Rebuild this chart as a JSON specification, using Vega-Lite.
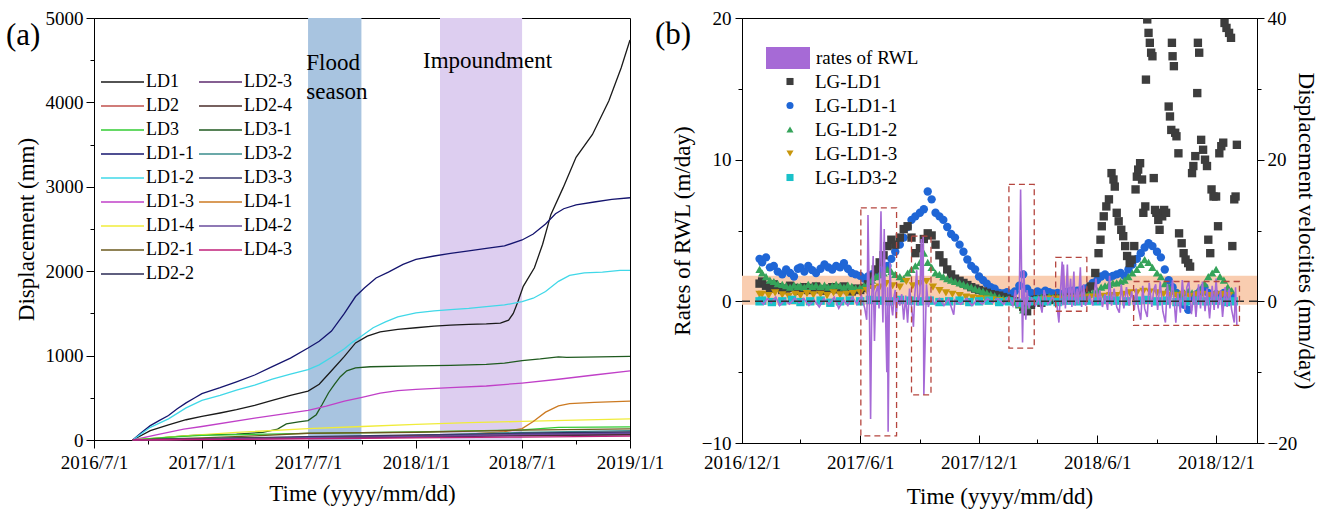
{
"$schema":"https://vega.github.io/schema/vega-lite/v6.json",
"padding":{"left":5,"top":8,"right":5,"bottom":5},
"background":"white",
"config":{"font":"Liberation Serif","view":{"stroke":"black","strokeWidth":1},
"text":{"font":"Liberation Serif"},
"style":{"guide-label":{"font":"Liberation Serif"},"guide-title":{"font":"Liberation Serif"}},
"axis":{"labelFont":"Liberation Serif","titleFont":"Liberation Serif","domainColor":"black","tickColor":"black","labelColor":"black","titleColor":"black","labelFontSize":19,"titleFontSize":23,"titleFontWeight":"normal","grid":false,"labelFlush":false,"labelOverlap":false,"labelBound":false,"tickWidth":1,"domainWidth":1},
"legend":{"labelFont":"Liberation Serif","labelColor":"black","padding":0}},
"spacing":112,
"bounds":"flush",
"resolve":{"scale":{"color":"independent","stroke":"independent","shape":"independent","fill":"independent"},"legend":{"color":"independent","stroke":"independent","shape":"independent","fill":"independent"}},
"datasets":{
"bands":[{"start":"2017/7/1","end":"2017/9/30","kind":"Flood season"},{"start":"2018/2/11","end":"2018/7/1","kind":"Impoundment"}],
"disp":[
{"s":"LD1","t":"2016/9/5","v":0},{"s":"LD1","t":"2016/10/5","v":110},{"s":"LD1","t":"2016/11/5","v":180},{"s":"LD1","t":"2016/12/5","v":240},{"s":"LD1","t":"2017/1/1","v":280},{"s":"LD1","t":"2017/2/1","v":320},{"s":"LD1","t":"2017/3/1","v":360},{"s":"LD1","t":"2017/4/1","v":410},{"s":"LD1","t":"2017/5/1","v":470},{"s":"LD1","t":"2017/6/1","v":530},{"s":"LD1","t":"2017/7/1","v":580},{"s":"LD1","t":"2017/7/20","v":660},{"s":"LD1","t":"2017/8/10","v":820},{"s":"LD1","t":"2017/9/1","v":990},{"s":"LD1","t":"2017/9/20","v":1150},{"s":"LD1","t":"2017/10/10","v":1230},{"s":"LD1","t":"2017/11/1","v":1280},{"s":"LD1","t":"2017/12/1","v":1310},{"s":"LD1","t":"2018/1/1","v":1330},{"s":"LD1","t":"2018/2/1","v":1350},{"s":"LD1","t":"2018/3/1","v":1360},{"s":"LD1","t":"2018/4/1","v":1370},{"s":"LD1","t":"2018/5/1","v":1375},{"s":"LD1","t":"2018/5/25","v":1385},{"s":"LD1","t":"2018/6/8","v":1420},{"s":"LD1","t":"2018/6/16","v":1500},{"s":"LD1","t":"2018/6/24","v":1640},{"s":"LD1","t":"2018/7/3","v":1820},{"s":"LD1","t":"2018/7/22","v":2040},{"s":"LD1","t":"2018/8/5","v":2320},{"s":"LD1","t":"2018/8/19","v":2670},{"s":"LD1","t":"2018/9/9","v":2990},{"s":"LD1","t":"2018/10/1","v":3350},{"s":"LD1","t":"2018/10/29","v":3620},{"s":"LD1","t":"2018/11/26","v":4020},{"s":"LD1","t":"2018/12/17","v":4410},{"s":"LD1","t":"2019/1/1","v":4740},
{"s":"LD1-1","t":"2016/9/5","v":0},{"s":"LD1-1","t":"2016/9/20","v":90},{"s":"LD1-1","t":"2016/10/5","v":170},{"s":"LD1-1","t":"2016/10/20","v":230},{"s":"LD1-1","t":"2016/11/5","v":290},{"s":"LD1-1","t":"2016/11/20","v":370},{"s":"LD1-1","t":"2016/12/5","v":440},{"s":"LD1-1","t":"2016/12/20","v":500},{"s":"LD1-1","t":"2017/1/1","v":550},{"s":"LD1-1","t":"2017/2/1","v":620},{"s":"LD1-1","t":"2017/3/1","v":690},{"s":"LD1-1","t":"2017/4/1","v":770},{"s":"LD1-1","t":"2017/5/1","v":870},{"s":"LD1-1","t":"2017/6/1","v":970},{"s":"LD1-1","t":"2017/7/1","v":1090},{"s":"LD1-1","t":"2017/7/20","v":1170},{"s":"LD1-1","t":"2017/8/10","v":1290},{"s":"LD1-1","t":"2017/9/1","v":1500},{"s":"LD1-1","t":"2017/9/20","v":1700},{"s":"LD1-1","t":"2017/10/5","v":1800},{"s":"LD1-1","t":"2017/10/25","v":1920},{"s":"LD1-1","t":"2017/11/15","v":1990},{"s":"LD1-1","t":"2017/12/10","v":2080},{"s":"LD1-1","t":"2018/1/1","v":2140},{"s":"LD1-1","t":"2018/2/1","v":2180},{"s":"LD1-1","t":"2018/3/1","v":2210},{"s":"LD1-1","t":"2018/4/1","v":2240},{"s":"LD1-1","t":"2018/5/1","v":2270},{"s":"LD1-1","t":"2018/6/1","v":2300},{"s":"LD1-1","t":"2018/7/1","v":2370},{"s":"LD1-1","t":"2018/7/20","v":2440},{"s":"LD1-1","t":"2018/8/10","v":2560},{"s":"LD1-1","t":"2018/8/27","v":2680},{"s":"LD1-1","t":"2018/9/10","v":2740},{"s":"LD1-1","t":"2018/10/1","v":2785},{"s":"LD1-1","t":"2018/11/1","v":2820},{"s":"LD1-1","t":"2018/12/1","v":2850},{"s":"LD1-1","t":"2019/1/1","v":2870},
{"s":"LD1-2","t":"2016/9/5","v":0},{"s":"LD1-2","t":"2016/10/5","v":150},{"s":"LD1-2","t":"2016/11/5","v":250},{"s":"LD1-2","t":"2016/12/5","v":380},{"s":"LD1-2","t":"2017/1/1","v":470},{"s":"LD1-2","t":"2017/2/1","v":530},{"s":"LD1-2","t":"2017/3/1","v":590},{"s":"LD1-2","t":"2017/4/1","v":650},{"s":"LD1-2","t":"2017/5/1","v":720},{"s":"LD1-2","t":"2017/6/1","v":780},{"s":"LD1-2","t":"2017/7/1","v":835},{"s":"LD1-2","t":"2017/7/20","v":890},{"s":"LD1-2","t":"2017/8/10","v":980},{"s":"LD1-2","t":"2017/9/1","v":1080},{"s":"LD1-2","t":"2017/9/15","v":1160},{"s":"LD1-2","t":"2017/10/1","v":1235},{"s":"LD1-2","t":"2017/10/20","v":1330},{"s":"LD1-2","t":"2017/11/10","v":1400},{"s":"LD1-2","t":"2017/12/1","v":1460},{"s":"LD1-2","t":"2018/1/1","v":1505},{"s":"LD1-2","t":"2018/2/1","v":1530},{"s":"LD1-2","t":"2018/3/1","v":1545},{"s":"LD1-2","t":"2018/4/1","v":1560},{"s":"LD1-2","t":"2018/5/1","v":1580},{"s":"LD1-2","t":"2018/6/1","v":1600},{"s":"LD1-2","t":"2018/7/1","v":1640},{"s":"LD1-2","t":"2018/7/20","v":1680},{"s":"LD1-2","t":"2018/8/10","v":1760},{"s":"LD1-2","t":"2018/9/1","v":1880},{"s":"LD1-2","t":"2018/9/20","v":1950},{"s":"LD1-2","t":"2018/10/15","v":1980},{"s":"LD1-2","t":"2018/11/15","v":1990},{"s":"LD1-2","t":"2018/12/15","v":2010},{"s":"LD1-2","t":"2019/1/1","v":2010},
{"s":"LD3-1","t":"2016/9/5","v":0},{"s":"LD3-1","t":"2016/10/15","v":20},{"s":"LD3-1","t":"2016/12/1","v":50},{"s":"LD3-1","t":"2017/1/1","v":60},{"s":"LD3-1","t":"2017/3/1","v":70},{"s":"LD3-1","t":"2017/4/15","v":90},{"s":"LD3-1","t":"2017/5/10","v":130},{"s":"LD3-1","t":"2017/5/25","v":190},{"s":"LD3-1","t":"2017/6/15","v":215},{"s":"LD3-1","t":"2017/7/1","v":230},{"s":"LD3-1","t":"2017/7/15","v":300},{"s":"LD3-1","t":"2017/7/25","v":420},{"s":"LD3-1","t":"2017/8/5","v":560},{"s":"LD3-1","t":"2017/8/15","v":660},{"s":"LD3-1","t":"2017/8/25","v":750},{"s":"LD3-1","t":"2017/9/5","v":820},{"s":"LD3-1","t":"2017/9/20","v":855},{"s":"LD3-1","t":"2017/10/15","v":868},{"s":"LD3-1","t":"2018/1/1","v":878},{"s":"LD3-1","t":"2018/3/1","v":885},{"s":"LD3-1","t":"2018/5/1","v":895},{"s":"LD3-1","t":"2018/6/1","v":910},{"s":"LD3-1","t":"2018/7/1","v":940},{"s":"LD3-1","t":"2018/8/1","v":960},{"s":"LD3-1","t":"2018/9/1","v":985},{"s":"LD3-1","t":"2018/9/15","v":980},{"s":"LD3-1","t":"2018/10/15","v":982},{"s":"LD3-1","t":"2019/1/1","v":990},
{"s":"LD1-3","t":"2016/9/5","v":0},{"s":"LD1-3","t":"2016/10/15","v":60},{"s":"LD1-3","t":"2016/12/1","v":130},{"s":"LD1-3","t":"2017/1/1","v":160},{"s":"LD1-3","t":"2017/4/1","v":260},{"s":"LD1-3","t":"2017/7/1","v":352},{"s":"LD1-3","t":"2017/8/1","v":400},{"s":"LD1-3","t":"2017/9/1","v":460},{"s":"LD1-3","t":"2017/10/1","v":505},{"s":"LD1-3","t":"2017/11/1","v":555},{"s":"LD1-3","t":"2017/12/1","v":585},{"s":"LD1-3","t":"2018/1/1","v":600},{"s":"LD1-3","t":"2018/3/1","v":620},{"s":"LD1-3","t":"2018/5/1","v":640},{"s":"LD1-3","t":"2018/7/1","v":675},{"s":"LD1-3","t":"2018/9/1","v":720},{"s":"LD1-3","t":"2018/11/1","v":770},{"s":"LD1-3","t":"2019/1/1","v":820},
{"s":"LD1-4","t":"2016/9/5","v":0},{"s":"LD1-4","t":"2016/12/1","v":50},{"s":"LD1-4","t":"2017/3/1","v":90},{"s":"LD1-4","t":"2017/7/1","v":135},{"s":"LD1-4","t":"2017/10/1","v":160},{"s":"LD1-4","t":"2018/1/1","v":185},{"s":"LD1-4","t":"2018/4/1","v":205},{"s":"LD1-4","t":"2018/7/1","v":220},{"s":"LD1-4","t":"2018/10/1","v":235},{"s":"LD1-4","t":"2019/1/1","v":250},
{"s":"LD4-1","t":"2016/9/5","v":0},{"s":"LD4-1","t":"2017/1/1","v":15},{"s":"LD4-1","t":"2017/7/1","v":30},{"s":"LD4-1","t":"2018/1/1","v":50},{"s":"LD4-1","t":"2018/4/1","v":70},{"s":"LD4-1","t":"2018/6/1","v":100},{"s":"LD4-1","t":"2018/7/1","v":135},{"s":"LD4-1","t":"2018/7/20","v":220},{"s":"LD4-1","t":"2018/8/10","v":330},{"s":"LD4-1","t":"2018/9/1","v":405},{"s":"LD4-1","t":"2018/9/20","v":430},{"s":"LD4-1","t":"2018/11/1","v":445},{"s":"LD4-1","t":"2019/1/1","v":460},
{"s":"LD3","t":"2016/9/5","v":0},{"s":"LD3","t":"2016/11/1","v":30},{"s":"LD3","t":"2017/1/1","v":55},{"s":"LD3","t":"2017/7/1","v":78},{"s":"LD3","t":"2018/1/1","v":95},{"s":"LD3","t":"2018/7/1","v":120},{"s":"LD3","t":"2018/9/1","v":150},{"s":"LD3","t":"2019/1/1","v":155},
{"s":"LD2-1","t":"2016/9/5","v":0},{"s":"LD2-1","t":"2017/1/1","v":25},{"s":"LD2-1","t":"2017/4/1","v":50},{"s":"LD2-1","t":"2017/7/1","v":80},{"s":"LD2-1","t":"2018/1/1","v":92},{"s":"LD2-1","t":"2018/7/1","v":118},{"s":"LD2-1","t":"2019/1/1","v":132},
{"s":"LD3-2","t":"2016/9/5","v":0},{"s":"LD3-2","t":"2017/1/1","v":15},{"s":"LD3-2","t":"2017/7/1","v":35},{"s":"LD3-2","t":"2018/1/1","v":55},{"s":"LD3-2","t":"2018/7/1","v":90},{"s":"LD3-2","t":"2019/1/1","v":110},
{"s":"LD2-2","t":"2016/9/5","v":0},{"s":"LD2-2","t":"2017/1/1","v":12},{"s":"LD2-2","t":"2017/7/1","v":30},{"s":"LD2-2","t":"2018/1/1","v":50},{"s":"LD2-2","t":"2018/7/1","v":80},{"s":"LD2-2","t":"2019/1/1","v":95},
{"s":"LD3-3","t":"2016/9/5","v":0},{"s":"LD3-3","t":"2017/1/1","v":15},{"s":"LD3-3","t":"2017/7/1","v":40},{"s":"LD3-3","t":"2018/1/1","v":60},{"s":"LD3-3","t":"2018/7/1","v":75},{"s":"LD3-3","t":"2019/1/1","v":85},
{"s":"LD2","t":"2016/9/5","v":0},{"s":"LD2","t":"2017/1/1","v":10},{"s":"LD2","t":"2017/7/1","v":25},{"s":"LD2","t":"2018/1/1","v":45},{"s":"LD2","t":"2018/7/1","v":60},{"s":"LD2","t":"2019/1/1","v":70},
{"s":"LD2-3","t":"2016/9/5","v":0},{"s":"LD2-3","t":"2017/1/1","v":8},{"s":"LD2-3","t":"2017/7/1","v":20},{"s":"LD2-3","t":"2018/1/1","v":35},{"s":"LD2-3","t":"2018/7/1","v":50},{"s":"LD2-3","t":"2019/1/1","v":60},
{"s":"LD2-4","t":"2016/9/5","v":0},{"s":"LD2-4","t":"2017/1/1","v":12},{"s":"LD2-4","t":"2017/7/1","v":30},{"s":"LD2-4","t":"2018/1/1","v":45},{"s":"LD2-4","t":"2018/7/1","v":55},{"s":"LD2-4","t":"2019/1/1","v":65},
{"s":"LD4-2","t":"2016/9/5","v":0},{"s":"LD4-2","t":"2017/1/1","v":10},{"s":"LD4-2","t":"2017/7/1","v":28},{"s":"LD4-2","t":"2018/1/1","v":42},{"s":"LD4-2","t":"2018/7/1","v":65},{"s":"LD4-2","t":"2019/1/1","v":80},
{"s":"LD4-3","t":"2016/9/5","v":0},{"s":"LD4-3","t":"2017/1/1","v":6},{"s":"LD4-3","t":"2017/7/1","v":15},{"s":"LD4-3","t":"2018/1/1","v":25},{"s":"LD4-3","t":"2018/7/1","v":35},{"s":"LD4-3","t":"2019/1/1","v":45}
],
"band":[{"lo":-0.24,"hi":1.81}],
"boxes":[{"a":"2017/6/2","b":"2017/7/27","lo":-9.5,"hi":6.6},{"a":"2017/8/19","b":"2017/9/18","lo":-6.6,"hi":4.6},{"a":"2018/1/16","b":"2018/2/24","lo":-3.3,"hi":8.25},{"a":"2018/3/29","b":"2018/5/16","lo":-0.7,"hi":3.1},{"a":"2018/7/27","b":"2019/1/6","lo":-1.7,"hi":1.4}],
"rwl":[
{"s":"rates of RWL","t":"2016/12/28","v":0.1},{"s":"rates of RWL","t":"2017/1/3","v":-0.2},{"s":"rates of RWL","t":"2017/1/9","v":0.2},{"s":"rates of RWL","t":"2017/1/15","v":-0.1},{"s":"rates of RWL","t":"2017/1/22","v":0.3},{"s":"rates of RWL","t":"2017/1/28","v":-0.3},{"s":"rates of RWL","t":"2017/2/5","v":0.1},{"s":"rates of RWL","t":"2017/2/12","v":-0.2},{"s":"rates of RWL","t":"2017/2/20","v":0.2},{"s":"rates of RWL","t":"2017/2/27","v":-0.1},{"s":"rates of RWL","t":"2017/3/6","v":0.2},{"s":"rates of RWL","t":"2017/3/14","v":-0.3},{"s":"rates of RWL","t":"2017/3/22","v":0.1},{"s":"rates of RWL","t":"2017/3/30","v":-0.4},{"s":"rates of RWL","t":"2017/4/6","v":0.2},{"s":"rates of RWL","t":"2017/4/14","v":-0.2},{"s":"rates of RWL","t":"2017/4/22","v":0.3},{"s":"rates of RWL","t":"2017/4/29","v":-0.5},{"s":"rates of RWL","t":"2017/5/6","v":0.1},{"s":"rates of RWL","t":"2017/5/13","v":-0.3},{"s":"rates of RWL","t":"2017/5/20","v":0.3},{"s":"rates of RWL","t":"2017/5/27","v":-0.2},{"s":"rates of RWL","t":"2017/6/3","v":0.4},{"s":"rates of RWL","t":"2017/6/8","v":-0.5},{"s":"rates of RWL","t":"2017/6/11","v":-1.3},{"s":"rates of RWL","t":"2017/6/12","v":0.5},{"s":"rates of RWL","t":"2017/6/13","v":6.1},{"s":"rates of RWL","t":"2017/6/15","v":0.3},{"s":"rates of RWL","t":"2017/6/17","v":-8.3},{"s":"rates of RWL","t":"2017/6/19","v":0.5},{"s":"rates of RWL","t":"2017/6/21","v":3.2},{"s":"rates of RWL","t":"2017/6/22","v":-0.4},{"s":"rates of RWL","t":"2017/6/23","v":-2.8},{"s":"rates of RWL","t":"2017/6/25","v":0.6},{"s":"rates of RWL","t":"2017/6/28","v":1.1},{"s":"rates of RWL","t":"2017/6/30","v":-0.5},{"s":"rates of RWL","t":"2017/7/3","v":6.35},{"s":"rates of RWL","t":"2017/7/5","v":0.2},{"s":"rates of RWL","t":"2017/7/6","v":-1.5},{"s":"rates of RWL","t":"2017/7/8","v":5.1},{"s":"rates of RWL","t":"2017/7/10","v":-0.8},{"s":"rates of RWL","t":"2017/7/12","v":-5.0},{"s":"rates of RWL","t":"2017/7/13","v":1.0},{"s":"rates of RWL","t":"2017/7/14","v":-9.2},{"s":"rates of RWL","t":"2017/7/16","v":0.5},{"s":"rates of RWL","t":"2017/7/17","v":2.7},{"s":"rates of RWL","t":"2017/7/19","v":-0.3},{"s":"rates of RWL","t":"2017/7/21","v":-1.0},{"s":"rates of RWL","t":"2017/7/23","v":0.3},{"s":"rates of RWL","t":"2017/7/25","v":0.8},{"s":"rates of RWL","t":"2017/7/26","v":-1.2},{"s":"rates of RWL","t":"2017/7/29","v":0.3},{"s":"rates of RWL","t":"2017/8/1","v":-0.3},{"s":"rates of RWL","t":"2017/8/4","v":0.5},{"s":"rates of RWL","t":"2017/8/7","v":-1.3},{"s":"rates of RWL","t":"2017/8/10","v":0.4},{"s":"rates of RWL","t":"2017/8/13","v":-1.5},{"s":"rates of RWL","t":"2017/8/16","v":0.9},{"s":"rates of RWL","t":"2017/8/19","v":-0.3},{"s":"rates of RWL","t":"2017/8/22","v":-1.8},{"s":"rates of RWL","t":"2017/8/24","v":0.4},{"s":"rates of RWL","t":"2017/8/27","v":2.2},{"s":"rates of RWL","t":"2017/8/29","v":-0.3},{"s":"rates of RWL","t":"2017/9/1","v":0.6},{"s":"rates of RWL","t":"2017/9/3","v":4.4},{"s":"rates of RWL","t":"2017/9/5","v":-0.2},{"s":"rates of RWL","t":"2017/9/6","v":4.6},{"s":"rates of RWL","t":"2017/9/7","v":-6.6},{"s":"rates of RWL","t":"2017/9/9","v":-2.9},{"s":"rates of RWL","t":"2017/9/11","v":1.2},{"s":"rates of RWL","t":"2017/9/14","v":-0.4},{"s":"rates of RWL","t":"2017/9/18","v":0.3},{"s":"rates of RWL","t":"2017/9/24","v":-0.2},{"s":"rates of RWL","t":"2017/10/1","v":0.2},{"s":"rates of RWL","t":"2017/10/8","v":-0.3},{"s":"rates of RWL","t":"2017/10/15","v":0.2},{"s":"rates of RWL","t":"2017/10/23","v":-0.95},{"s":"rates of RWL","t":"2017/10/25","v":0.1},{"s":"rates of RWL","t":"2017/11/3","v":-0.2},{"s":"rates of RWL","t":"2017/11/12","v":0.2},{"s":"rates of RWL","t":"2017/11/20","v":-0.3},{"s":"rates of RWL","t":"2017/11/28","v":0.1},{"s":"rates of RWL","t":"2017/12/6","v":-0.2},{"s":"rates of RWL","t":"2017/12/14","v":0.2},{"s":"rates of RWL","t":"2017/12/22","v":-0.1},{"s":"rates of RWL","t":"2017/12/30","v":0.2},{"s":"rates of RWL","t":"2018/1/8","v":-0.2},{"s":"rates of RWL","t":"2018/1/16","v":0.3},{"s":"rates of RWL","t":"2018/1/22","v":-0.3},{"s":"rates of RWL","t":"2018/1/26","v":0.8},{"s":"rates of RWL","t":"2018/1/29","v":-0.4},{"s":"rates of RWL","t":"2018/2/1","v":0.3},{"s":"rates of RWL","t":"2018/2/3","v":7.9},{"s":"rates of RWL","t":"2018/2/5","v":-0.2},{"s":"rates of RWL","t":"2018/2/6","v":-2.9},{"s":"rates of RWL","t":"2018/2/8","v":2.2},{"s":"rates of RWL","t":"2018/2/11","v":-1.3},{"s":"rates of RWL","t":"2018/2/13","v":0.8},{"s":"rates of RWL","t":"2018/2/16","v":-0.5},{"s":"rates of RWL","t":"2018/2/20","v":0.2},{"s":"rates of RWL","t":"2018/2/26","v":-0.3},{"s":"rates of RWL","t":"2018/3/3","v":0.3},{"s":"rates of RWL","t":"2018/3/8","v":-0.8},{"s":"rates of RWL","t":"2018/3/11","v":0.8},{"s":"rates of RWL","t":"2018/3/17","v":-0.2},{"s":"rates of RWL","t":"2018/3/24","v":0.3},{"s":"rates of RWL","t":"2018/3/31","v":-0.3},{"s":"rates of RWL","t":"2018/4/3","v":-1.5},{"s":"rates of RWL","t":"2018/4/5","v":0.4},{"s":"rates of RWL","t":"2018/4/8","v":2.8},{"s":"rates of RWL","t":"2018/4/9","v":-0.3},{"s":"rates of RWL","t":"2018/4/10","v":2.6},{"s":"rates of RWL","t":"2018/4/13","v":-0.5},{"s":"rates of RWL","t":"2018/4/16","v":2.6},{"s":"rates of RWL","t":"2018/4/18","v":-0.2},{"s":"rates of RWL","t":"2018/4/21","v":1.6},{"s":"rates of RWL","t":"2018/4/23","v":-0.4},{"s":"rates of RWL","t":"2018/4/26","v":2.1},{"s":"rates of RWL","t":"2018/4/28","v":-0.3},{"s":"rates of RWL","t":"2018/5/1","v":0.9},{"s":"rates of RWL","t":"2018/5/3","v":-0.2},{"s":"rates of RWL","t":"2018/5/6","v":2.4},{"s":"rates of RWL","t":"2018/5/8","v":-0.4},{"s":"rates of RWL","t":"2018/5/11","v":1.2},{"s":"rates of RWL","t":"2018/5/14","v":-0.3},{"s":"rates of RWL","t":"2018/5/20","v":0.4},{"s":"rates of RWL","t":"2018/5/25","v":-0.3},{"s":"rates of RWL","t":"2018/5/30","v":1.6},{"s":"rates of RWL","t":"2018/6/2","v":-0.2},{"s":"rates of RWL","t":"2018/6/5","v":0.8},{"s":"rates of RWL","t":"2018/6/9","v":-0.4},{"s":"rates of RWL","t":"2018/6/13","v":0.5},{"s":"rates of RWL","t":"2018/6/17","v":-0.6},{"s":"rates of RWL","t":"2018/6/20","v":1.8},{"s":"rates of RWL","t":"2018/6/23","v":-0.3},{"s":"rates of RWL","t":"2018/6/27","v":0.9},{"s":"rates of RWL","t":"2018/7/1","v":-0.4},{"s":"rates of RWL","t":"2018/7/5","v":-0.8},{"s":"rates of RWL","t":"2018/7/8","v":1.2},{"s":"rates of RWL","t":"2018/7/12","v":-0.5},{"s":"rates of RWL","t":"2018/7/16","v":1.0},{"s":"rates of RWL","t":"2018/7/20","v":-0.3},{"s":"rates of RWL","t":"2018/7/24","v":0.7},{"s":"rates of RWL","t":"2018/7/28","v":-0.6},{"s":"rates of RWL","t":"2018/7/31","v":0.9},{"s":"rates of RWL","t":"2018/8/3","v":-0.4},{"s":"rates of RWL","t":"2018/8/7","v":-1.3},{"s":"rates of RWL","t":"2018/8/10","v":1.1},{"s":"rates of RWL","t":"2018/8/13","v":-0.5},{"s":"rates of RWL","t":"2018/8/17","v":-1.1},{"s":"rates of RWL","t":"2018/8/20","v":1.3},{"s":"rates of RWL","t":"2018/8/24","v":-0.4},{"s":"rates of RWL","t":"2018/8/27","v":0.8},{"s":"rates of RWL","t":"2018/8/30","v":1.2},{"s":"rates of RWL","t":"2018/9/2","v":-0.6},{"s":"rates of RWL","t":"2018/9/6","v":1.4},{"s":"rates of RWL","t":"2018/9/10","v":-0.7},{"s":"rates of RWL","t":"2018/9/14","v":-1.5},{"s":"rates of RWL","t":"2018/9/17","v":1.2},{"s":"rates of RWL","t":"2018/9/21","v":-0.5},{"s":"rates of RWL","t":"2018/9/25","v":1.5},{"s":"rates of RWL","t":"2018/9/30","v":-1.5},{"s":"rates of RWL","t":"2018/10/3","v":0.6},{"s":"rates of RWL","t":"2018/10/7","v":-0.8},{"s":"rates of RWL","t":"2018/10/10","v":1.5},{"s":"rates of RWL","t":"2018/10/14","v":-0.6},{"s":"rates of RWL","t":"2018/10/17","v":1.0},{"s":"rates of RWL","t":"2018/10/20","v":1.4},{"s":"rates of RWL","t":"2018/10/24","v":-0.9},{"s":"rates of RWL","t":"2018/10/28","v":0.7},{"s":"rates of RWL","t":"2018/10/31","v":-1.1},{"s":"rates of RWL","t":"2018/11/4","v":1.2},{"s":"rates of RWL","t":"2018/11/7","v":-0.5},{"s":"rates of RWL","t":"2018/11/10","v":1.4},{"s":"rates of RWL","t":"2018/11/14","v":-0.7},{"s":"rates of RWL","t":"2018/11/17","v":0.9},{"s":"rates of RWL","t":"2018/11/21","v":-1.2},{"s":"rates of RWL","t":"2018/11/25","v":1.1},{"s":"rates of RWL","t":"2018/11/28","v":-0.6},{"s":"rates of RWL","t":"2018/12/1","v":1.6},{"s":"rates of RWL","t":"2018/12/4","v":-0.5},{"s":"rates of RWL","t":"2018/12/8","v":0.8},{"s":"rates of RWL","t":"2018/12/11","v":-1.1},{"s":"rates of RWL","t":"2018/12/15","v":1.0},{"s":"rates of RWL","t":"2018/12/18","v":-0.4},{"s":"rates of RWL","t":"2018/12/21","v":0.9},{"s":"rates of RWL","t":"2018/12/25","v":-0.6},{"s":"rates of RWL","t":"2018/12/29","v":-1.5},{"s":"rates of RWL","t":"2018/12/31","v":1.0},{"s":"rates of RWL","t":"2019/1/2","v":-1.7}
],
"vel":[
{"s":"LG-LD1-1","t":"2016/12/28","v":6.0},
{"s":"LG-LD1-1","t":"2017/1/1","v":5.5},{"s":"LG-LD1-1","t":"2017/1/7","v":6.2},{"s":"LG-LD1-1","t":"2017/1/13","v":4.8},{"s":"LG-LD1-1","t":"2017/1/19","v":5.0},{"s":"LG-LD1-1","t":"2017/1/25","v":4.2},
{"s":"LG-LD1-1","t":"2017/2/1","v":3.8},{"s":"LG-LD1-1","t":"2017/2/7","v":4.5},{"s":"LG-LD1-1","t":"2017/2/13","v":4.0},{"s":"LG-LD1-1","t":"2017/2/19","v":3.5},{"s":"LG-LD1-1","t":"2017/2/25","v":4.6},
{"s":"LG-LD1-1","t":"2017/3/1","v":4.8},{"s":"LG-LD1-1","t":"2017/3/7","v":4.2},{"s":"LG-LD1-1","t":"2017/3/13","v":5.0},{"s":"LG-LD1-1","t":"2017/3/19","v":4.4},{"s":"LG-LD1-1","t":"2017/3/25","v":4.0},
{"s":"LG-LD1-1","t":"2017/4/1","v":4.6},{"s":"LG-LD1-1","t":"2017/4/7","v":5.2},{"s":"LG-LD1-1","t":"2017/4/13","v":4.8},{"s":"LG-LD1-1","t":"2017/4/19","v":4.5},{"s":"LG-LD1-1","t":"2017/4/25","v":5.0},
{"s":"LG-LD1-1","t":"2017/5/1","v":4.8},{"s":"LG-LD1-1","t":"2017/5/7","v":5.4},{"s":"LG-LD1-1","t":"2017/5/13","v":4.6},{"s":"LG-LD1-1","t":"2017/5/19","v":4.0},{"s":"LG-LD1-1","t":"2017/5/25","v":3.8},
{"s":"LG-LD1-1","t":"2017/6/1","v":3.6},{"s":"LG-LD1-1","t":"2017/6/7","v":3.2},{"s":"LG-LD1-1","t":"2017/6/13","v":3.5},{"s":"LG-LD1-1","t":"2017/6/19","v":3.8},{"s":"LG-LD1-1","t":"2017/6/25","v":4.2},
{"s":"LG-LD1-1","t":"2017/7/1","v":3.8},{"s":"LG-LD1-1","t":"2017/7/7","v":4.5},{"s":"LG-LD1-1","t":"2017/7/13","v":5.0},{"s":"LG-LD1-1","t":"2017/7/19","v":6.0},{"s":"LG-LD1-1","t":"2017/7/25","v":7.0},
{"s":"LG-LD1-1","t":"2017/8/1","v":8.0},{"s":"LG-LD1-1","t":"2017/8/7","v":9.0},{"s":"LG-LD1-1","t":"2017/8/13","v":10.5},{"s":"LG-LD1-1","t":"2017/8/19","v":11.5},{"s":"LG-LD1-1","t":"2017/8/25","v":12.0},
{"s":"LG-LD1-1","t":"2017/9/1","v":12.5},{"s":"LG-LD1-1","t":"2017/9/7","v":13.0},{"s":"LG-LD1-1","t":"2017/9/13","v":15.5},{"s":"LG-LD1-1","t":"2017/9/19","v":14.4},{"s":"LG-LD1-1","t":"2017/9/25","v":12.5},
{"s":"LG-LD1-1","t":"2017/10/1","v":12.0},{"s":"LG-LD1-1","t":"2017/10/7","v":11.5},{"s":"LG-LD1-1","t":"2017/10/13","v":10.5},{"s":"LG-LD1-1","t":"2017/10/19","v":9.5},{"s":"LG-LD1-1","t":"2017/10/25","v":9.0},
{"s":"LG-LD1-1","t":"2017/11/1","v":8.0},{"s":"LG-LD1-1","t":"2017/11/7","v":7.0},{"s":"LG-LD1-1","t":"2017/11/13","v":5.9},{"s":"LG-LD1-1","t":"2017/11/19","v":5.0},{"s":"LG-LD1-1","t":"2017/11/25","v":4.5},
{"s":"LG-LD1-1","t":"2017/12/1","v":3.5},{"s":"LG-LD1-1","t":"2017/12/7","v":3.0},{"s":"LG-LD1-1","t":"2017/12/13","v":2.5},{"s":"LG-LD1-1","t":"2017/12/19","v":2.0},{"s":"LG-LD1-1","t":"2017/12/25","v":1.8},
{"s":"LG-LD1-1","t":"2018/1/1","v":1.2},{"s":"LG-LD1-1","t":"2018/1/7","v":1.1},{"s":"LG-LD1-1","t":"2018/1/13","v":1.3},{"s":"LG-LD1-1","t":"2018/1/19","v":1.0},{"s":"LG-LD1-1","t":"2018/1/25","v":1.4},
{"s":"LG-LD1-1","t":"2018/2/1","v":2.2},{"s":"LG-LD1-1","t":"2018/2/7","v":3.8},{"s":"LG-LD1-1","t":"2018/2/13","v":1.8},{"s":"LG-LD1-1","t":"2018/2/19","v":1.2},{"s":"LG-LD1-1","t":"2018/2/25","v":1.0},
{"s":"LG-LD1-1","t":"2018/3/1","v":1.4},{"s":"LG-LD1-1","t":"2018/3/7","v":1.2},{"s":"LG-LD1-1","t":"2018/3/13","v":1.5},{"s":"LG-LD1-1","t":"2018/3/19","v":1.3},{"s":"LG-LD1-1","t":"2018/3/25","v":1.1},
{"s":"LG-LD1-1","t":"2018/4/1","v":1.2},{"s":"LG-LD1-1","t":"2018/4/7","v":1.0},{"s":"LG-LD1-1","t":"2018/4/13","v":1.3},{"s":"LG-LD1-1","t":"2018/4/19","v":1.4},{"s":"LG-LD1-1","t":"2018/4/25","v":1.5},
{"s":"LG-LD1-1","t":"2018/5/1","v":1.5},{"s":"LG-LD1-1","t":"2018/5/7","v":1.6},{"s":"LG-LD1-1","t":"2018/5/13","v":1.8},{"s":"LG-LD1-1","t":"2018/5/19","v":2.0},{"s":"LG-LD1-1","t":"2018/5/25","v":2.6},
{"s":"LG-LD1-1","t":"2018/6/1","v":3.0},{"s":"LG-LD1-1","t":"2018/6/7","v":3.5},{"s":"LG-LD1-1","t":"2018/6/13","v":3.8},{"s":"LG-LD1-1","t":"2018/6/19","v":3.4},{"s":"LG-LD1-1","t":"2018/6/25","v":3.6},
{"s":"LG-LD1-1","t":"2018/7/1","v":3.8},{"s":"LG-LD1-1","t":"2018/7/7","v":4.0},{"s":"LG-LD1-1","t":"2018/7/13","v":3.6},{"s":"LG-LD1-1","t":"2018/7/19","v":4.5},{"s":"LG-LD1-1","t":"2018/7/25","v":5.2},
{"s":"LG-LD1-1","t":"2018/8/1","v":6.0},{"s":"LG-LD1-1","t":"2018/8/7","v":6.8},{"s":"LG-LD1-1","t":"2018/8/13","v":7.6},{"s":"LG-LD1-1","t":"2018/8/19","v":8.2},{"s":"LG-LD1-1","t":"2018/8/25","v":7.8},
{"s":"LG-LD1-1","t":"2018/9/1","v":7.0},{"s":"LG-LD1-1","t":"2018/9/7","v":6.2},{"s":"LG-LD1-1","t":"2018/9/13","v":4.5},{"s":"LG-LD1-1","t":"2018/9/19","v":3.0},{"s":"LG-LD1-1","t":"2018/9/25","v":2.0},
{"s":"LG-LD1-1","t":"2018/10/1","v":1.2},{"s":"LG-LD1-1","t":"2018/10/7","v":0.8},{"s":"LG-LD1-1","t":"2018/10/13","v":-0.5},{"s":"LG-LD1-1","t":"2018/10/19","v":-1.2},{"s":"LG-LD1-1","t":"2018/10/25","v":0.5},
{"s":"LG-LD1-1","t":"2018/11/1","v":1.0},{"s":"LG-LD1-1","t":"2018/11/7","v":1.5},{"s":"LG-LD1-1","t":"2018/11/13","v":2.0},{"s":"LG-LD1-1","t":"2018/11/19","v":1.2},{"s":"LG-LD1-1","t":"2018/11/25","v":0.8},
{"s":"LG-LD1-1","t":"2018/12/1","v":1.0},{"s":"LG-LD1-1","t":"2018/12/7","v":0.8},{"s":"LG-LD1-1","t":"2018/12/13","v":1.2},{"s":"LG-LD1-1","t":"2018/12/19","v":0.6},{"s":"LG-LD1-1","t":"2018/12/25","v":0.8},
{"s":"LG-LD1","t":"2016/12/28","v":2.5},
{"s":"LG-LD1","t":"2017/1/1","v":2.8},{"s":"LG-LD1","t":"2017/1/7","v":2.2},{"s":"LG-LD1","t":"2017/1/13","v":1.8},{"s":"LG-LD1","t":"2017/1/19","v":2.4},{"s":"LG-LD1","t":"2017/1/25","v":2.0},
{"s":"LG-LD1","t":"2017/2/1","v":1.6},{"s":"LG-LD1","t":"2017/2/7","v":1.8},{"s":"LG-LD1","t":"2017/2/13","v":2.2},{"s":"LG-LD1","t":"2017/2/19","v":1.9},{"s":"LG-LD1","t":"2017/2/25","v":1.5},
{"s":"LG-LD1","t":"2017/3/1","v":1.8},{"s":"LG-LD1","t":"2017/3/7","v":2.0},{"s":"LG-LD1","t":"2017/3/13","v":1.6},{"s":"LG-LD1","t":"2017/3/19","v":1.9},{"s":"LG-LD1","t":"2017/3/25","v":2.1},
{"s":"LG-LD1","t":"2017/4/1","v":1.7},{"s":"LG-LD1","t":"2017/4/7","v":1.5},{"s":"LG-LD1","t":"2017/4/13","v":1.8},{"s":"LG-LD1","t":"2017/4/19","v":2.0},{"s":"LG-LD1","t":"2017/4/25","v":1.7},
{"s":"LG-LD1","t":"2017/5/1","v":1.9},{"s":"LG-LD1","t":"2017/5/7","v":2.1},{"s":"LG-LD1","t":"2017/5/13","v":1.6},{"s":"LG-LD1","t":"2017/5/19","v":1.4},{"s":"LG-LD1","t":"2017/5/25","v":1.8},
{"s":"LG-LD1","t":"2017/6/1","v":1.6},{"s":"LG-LD1","t":"2017/6/7","v":1.9},{"s":"LG-LD1","t":"2017/6/13","v":2.4},{"s":"LG-LD1","t":"2017/6/19","v":3.5},{"s":"LG-LD1","t":"2017/6/25","v":4.5},
{"s":"LG-LD1","t":"2017/7/1","v":5.5},{"s":"LG-LD1","t":"2017/7/7","v":6.5},{"s":"LG-LD1","t":"2017/7/13","v":7.8},{"s":"LG-LD1","t":"2017/7/19","v":8.7},{"s":"LG-LD1","t":"2017/7/25","v":8.0},
{"s":"LG-LD1","t":"2017/8/1","v":9.0},{"s":"LG-LD1","t":"2017/8/7","v":10.2},{"s":"LG-LD1","t":"2017/8/13","v":10.6},{"s":"LG-LD1","t":"2017/8/19","v":9.0},{"s":"LG-LD1","t":"2017/8/25","v":6.8},
{"s":"LG-LD1","t":"2017/9/1","v":7.5},{"s":"LG-LD1","t":"2017/9/7","v":8.8},{"s":"LG-LD1","t":"2017/9/13","v":9.6},{"s":"LG-LD1","t":"2017/9/19","v":9.3},{"s":"LG-LD1","t":"2017/9/25","v":8.0},
{"s":"LG-LD1","t":"2017/10/1","v":6.5},{"s":"LG-LD1","t":"2017/10/7","v":5.5},{"s":"LG-LD1","t":"2017/10/13","v":4.5},{"s":"LG-LD1","t":"2017/10/19","v":3.8},{"s":"LG-LD1","t":"2017/10/25","v":3.2},
{"s":"LG-LD1","t":"2017/11/1","v":2.9},{"s":"LG-LD1","t":"2017/11/7","v":2.6},{"s":"LG-LD1","t":"2017/11/13","v":2.3},{"s":"LG-LD1","t":"2017/11/19","v":2.0},{"s":"LG-LD1","t":"2017/11/25","v":1.8},
{"s":"LG-LD1","t":"2017/12/1","v":1.6},{"s":"LG-LD1","t":"2017/12/7","v":1.4},{"s":"LG-LD1","t":"2017/12/13","v":1.2},{"s":"LG-LD1","t":"2017/12/19","v":1.0},{"s":"LG-LD1","t":"2017/12/25","v":0.9},
{"s":"LG-LD1","t":"2018/1/1","v":0.8},{"s":"LG-LD1","t":"2018/1/7","v":0.6},{"s":"LG-LD1","t":"2018/1/13","v":0.4},{"s":"LG-LD1","t":"2018/1/19","v":0.2},{"s":"LG-LD1","t":"2018/1/25","v":0.0},
{"s":"LG-LD1","t":"2018/2/1","v":-0.3},{"s":"LG-LD1","t":"2018/2/7","v":-0.8},{"s":"LG-LD1","t":"2018/2/13","v":-1.4},{"s":"LG-LD1","t":"2018/2/19","v":-0.5},{"s":"LG-LD1","t":"2018/2/25","v":0.2},
{"s":"LG-LD1","t":"2018/3/1","v":0.3},{"s":"LG-LD1","t":"2018/3/7","v":-0.2},{"s":"LG-LD1","t":"2018/3/13","v":0.4},{"s":"LG-LD1","t":"2018/3/19","v":0.2},{"s":"LG-LD1","t":"2018/3/25","v":0.3},
{"s":"LG-LD1","t":"2018/4/1","v":0.4},{"s":"LG-LD1","t":"2018/4/7","v":0.2},{"s":"LG-LD1","t":"2018/4/13","v":0.5},{"s":"LG-LD1","t":"2018/4/19","v":0.6},{"s":"LG-LD1","t":"2018/4/25","v":0.4},
{"s":"LG-LD1","t":"2018/5/1","v":0.5},{"s":"LG-LD1","t":"2018/5/7","v":0.8},{"s":"LG-LD1","t":"2018/5/13","v":1.0},{"s":"LG-LD1","t":"2018/5/16","v":1.2},{"s":"LG-LD1","t":"2018/5/22","v":2.1},{"s":"LG-LD1","t":"2018/5/29","v":4.0},
{"s":"LG-LD1","t":"2018/6/3","v":6.8},{"s":"LG-LD1","t":"2018/6/6","v":8.7},{"s":"LG-LD1","t":"2018/6/8","v":10.6},{"s":"LG-LD1","t":"2018/6/11","v":12.0},{"s":"LG-LD1","t":"2018/6/15","v":13.4},{"s":"LG-LD1","t":"2018/6/19","v":14.4},{"s":"LG-LD1","t":"2018/6/23","v":18.1},{"s":"LG-LD1","t":"2018/6/26","v":17.2},{"s":"LG-LD1","t":"2018/6/28","v":16.2},
{"s":"LG-LD1","t":"2018/7/1","v":12.5},{"s":"LG-LD1","t":"2018/7/4","v":11.3},{"s":"LG-LD1","t":"2018/7/8","v":10.1},{"s":"LG-LD1","t":"2018/7/11","v":9.2},{"s":"LG-LD1","t":"2018/7/14","v":7.8},{"s":"LG-LD1","t":"2018/7/17","v":6.4},{"s":"LG-LD1","t":"2018/7/21","v":5.4},{"s":"LG-LD1","t":"2018/7/24","v":5.9},{"s":"LG-LD1","t":"2018/7/28","v":7.8},{"s":"LG-LD1","t":"2018/7/30","v":15.8},
{"s":"LG-LD1","t":"2018/8/1","v":17.6},{"s":"LG-LD1","t":"2018/8/3","v":18.6},{"s":"LG-LD1","t":"2018/8/6","v":19.5},{"s":"LG-LD1","t":"2018/8/9","v":17.2},{"s":"LG-LD1","t":"2018/8/11","v":12.5},{"s":"LG-LD1","t":"2018/8/14","v":13.4},{"s":"LG-LD1","t":"2018/8/15","v":31.3},{"s":"LG-LD1","t":"2018/8/17","v":39.8},{"s":"LG-LD1","t":"2018/8/19","v":37.9},{"s":"LG-LD1","t":"2018/8/21","v":36.5},{"s":"LG-LD1","t":"2018/8/23","v":35.1},{"s":"LG-LD1","t":"2018/8/25","v":34.6},{"s":"LG-LD1","t":"2018/8/27","v":17.4},{"s":"LG-LD1","t":"2018/8/29","v":12.9},{"s":"LG-LD1","t":"2018/8/31","v":12.5},
{"s":"LG-LD1","t":"2018/9/3","v":11.5},{"s":"LG-LD1","t":"2018/9/5","v":10.1},{"s":"LG-LD1","t":"2018/9/9","v":12.0},{"s":"LG-LD1","t":"2018/9/12","v":12.9},{"s":"LG-LD1","t":"2018/9/15","v":12.5},{"s":"LG-LD1","t":"2018/9/19","v":27.5},{"s":"LG-LD1","t":"2018/9/21","v":26.1},{"s":"LG-LD1","t":"2018/9/23","v":24.2},{"s":"LG-LD1","t":"2018/9/24","v":36.5},{"s":"LG-LD1","t":"2018/9/25","v":34.6},{"s":"LG-LD1","t":"2018/9/27","v":33.2},{"s":"LG-LD1","t":"2018/9/29","v":23.8},
{"s":"LG-LD1","t":"2018/10/1","v":23.3},{"s":"LG-LD1","t":"2018/10/4","v":20.9},{"s":"LG-LD1","t":"2018/10/5","v":9.6},{"s":"LG-LD1","t":"2018/10/9","v":8.2},{"s":"LG-LD1","t":"2018/10/12","v":6.8},{"s":"LG-LD1","t":"2018/10/15","v":5.9},{"s":"LG-LD1","t":"2018/10/19","v":5.4},{"s":"LG-LD1","t":"2018/10/22","v":4.9},{"s":"LG-LD1","t":"2018/10/25","v":18.1},{"s":"LG-LD1","t":"2018/10/27","v":19.1},{"s":"LG-LD1","t":"2018/10/30","v":20.5},
{"s":"LG-LD1","t":"2018/11/2","v":29.4},{"s":"LG-LD1","t":"2018/11/3","v":36.5},{"s":"LG-LD1","t":"2018/11/5","v":35.1},{"s":"LG-LD1","t":"2018/11/8","v":22.8},{"s":"LG-LD1","t":"2018/11/11","v":21.4},{"s":"LG-LD1","t":"2018/11/14","v":20.0},{"s":"LG-LD1","t":"2018/11/17","v":19.1},{"s":"LG-LD1","t":"2018/11/19","v":8.7},{"s":"LG-LD1","t":"2018/11/22","v":6.8},{"s":"LG-LD1","t":"2018/11/24","v":15.8},{"s":"LG-LD1","t":"2018/11/27","v":14.8},
{"s":"LG-LD1","t":"2018/12/1","v":14.8},{"s":"LG-LD1","t":"2018/12/4","v":10.6},{"s":"LG-LD1","t":"2018/12/6","v":20.9},{"s":"LG-LD1","t":"2018/12/9","v":21.9},{"s":"LG-LD1","t":"2018/12/12","v":22.4},{"s":"LG-LD1","t":"2018/12/14","v":39.3},{"s":"LG-LD1","t":"2018/12/17","v":38.6},{"s":"LG-LD1","t":"2018/12/21","v":37.9},{"s":"LG-LD1","t":"2018/12/24","v":37.2},{"s":"LG-LD1","t":"2018/12/26","v":7.8},{"s":"LG-LD1","t":"2018/12/29","v":14.4},{"s":"LG-LD1","t":"2018/12/31","v":14.8},{"s":"LG-LD1","t":"2019/1/2","v":22.1},
{"s":"LG-LD1-2","t":"2016/12/28","v":4.5},
{"s":"LG-LD1-2","t":"2017/1/1","v":4.0},{"s":"LG-LD1-2","t":"2017/1/7","v":3.5},{"s":"LG-LD1-2","t":"2017/1/13","v":3.0},{"s":"LG-LD1-2","t":"2017/1/19","v":2.8},{"s":"LG-LD1-2","t":"2017/1/25","v":2.5},
{"s":"LG-LD1-2","t":"2017/2/1","v":2.4},{"s":"LG-LD1-2","t":"2017/2/7","v":2.2},{"s":"LG-LD1-2","t":"2017/2/13","v":2.0},{"s":"LG-LD1-2","t":"2017/2/19","v":2.3},{"s":"LG-LD1-2","t":"2017/2/25","v":2.1},
{"s":"LG-LD1-2","t":"2017/3/1","v":2.2},{"s":"LG-LD1-2","t":"2017/3/7","v":2.0},{"s":"LG-LD1-2","t":"2017/3/13","v":2.4},{"s":"LG-LD1-2","t":"2017/3/19","v":2.1},{"s":"LG-LD1-2","t":"2017/3/25","v":2.3},
{"s":"LG-LD1-2","t":"2017/4/1","v":2.1},{"s":"LG-LD1-2","t":"2017/4/7","v":2.3},{"s":"LG-LD1-2","t":"2017/4/13","v":2.0},{"s":"LG-LD1-2","t":"2017/4/19","v":2.2},{"s":"LG-LD1-2","t":"2017/4/25","v":2.4},
{"s":"LG-LD1-2","t":"2017/5/1","v":2.2},{"s":"LG-LD1-2","t":"2017/5/7","v":2.0},{"s":"LG-LD1-2","t":"2017/5/13","v":2.3},{"s":"LG-LD1-2","t":"2017/5/19","v":2.1},{"s":"LG-LD1-2","t":"2017/5/25","v":1.9},
{"s":"LG-LD1-2","t":"2017/6/1","v":2.0},{"s":"LG-LD1-2","t":"2017/6/7","v":2.2},{"s":"LG-LD1-2","t":"2017/6/13","v":2.5},{"s":"LG-LD1-2","t":"2017/6/19","v":3.0},{"s":"LG-LD1-2","t":"2017/6/25","v":3.5},
{"s":"LG-LD1-2","t":"2017/7/1","v":3.8},{"s":"LG-LD1-2","t":"2017/7/7","v":4.0},{"s":"LG-LD1-2","t":"2017/7/13","v":4.5},{"s":"LG-LD1-2","t":"2017/7/19","v":4.2},{"s":"LG-LD1-2","t":"2017/7/25","v":3.8},
{"s":"LG-LD1-2","t":"2017/8/1","v":3.5},{"s":"LG-LD1-2","t":"2017/8/7","v":3.2},{"s":"LG-LD1-2","t":"2017/8/13","v":4.0},{"s":"LG-LD1-2","t":"2017/8/19","v":4.5},{"s":"LG-LD1-2","t":"2017/8/25","v":5.0},
{"s":"LG-LD1-2","t":"2017/9/1","v":5.5},{"s":"LG-LD1-2","t":"2017/9/7","v":6.8},{"s":"LG-LD1-2","t":"2017/9/13","v":5.5},{"s":"LG-LD1-2","t":"2017/9/19","v":4.8},{"s":"LG-LD1-2","t":"2017/9/25","v":4.0},
{"s":"LG-LD1-2","t":"2017/10/1","v":3.8},{"s":"LG-LD1-2","t":"2017/10/7","v":3.5},{"s":"LG-LD1-2","t":"2017/10/13","v":3.2},{"s":"LG-LD1-2","t":"2017/10/19","v":3.0},{"s":"LG-LD1-2","t":"2017/10/25","v":2.8},
{"s":"LG-LD1-2","t":"2017/11/1","v":2.6},{"s":"LG-LD1-2","t":"2017/11/7","v":2.4},{"s":"LG-LD1-2","t":"2017/11/13","v":2.2},{"s":"LG-LD1-2","t":"2017/11/19","v":2.0},{"s":"LG-LD1-2","t":"2017/11/25","v":1.8},
{"s":"LG-LD1-2","t":"2017/12/1","v":1.6},{"s":"LG-LD1-2","t":"2017/12/7","v":1.4},{"s":"LG-LD1-2","t":"2017/12/13","v":1.2},{"s":"LG-LD1-2","t":"2017/12/19","v":1.0},{"s":"LG-LD1-2","t":"2017/12/25","v":0.8},
{"s":"LG-LD1-2","t":"2018/1/1","v":0.6},{"s":"LG-LD1-2","t":"2018/1/7","v":0.4},{"s":"LG-LD1-2","t":"2018/1/13","v":0.3},{"s":"LG-LD1-2","t":"2018/1/19","v":0.2},{"s":"LG-LD1-2","t":"2018/1/25","v":0.0},
{"s":"LG-LD1-2","t":"2018/2/1","v":-0.5},{"s":"LG-LD1-2","t":"2018/2/7","v":-1.2},{"s":"LG-LD1-2","t":"2018/2/13","v":-0.6},{"s":"LG-LD1-2","t":"2018/2/19","v":0.0},{"s":"LG-LD1-2","t":"2018/2/25","v":0.3},
{"s":"LG-LD1-2","t":"2018/3/1","v":0.5},{"s":"LG-LD1-2","t":"2018/3/7","v":0.6},{"s":"LG-LD1-2","t":"2018/3/13","v":0.5},{"s":"LG-LD1-2","t":"2018/3/19","v":0.7},{"s":"LG-LD1-2","t":"2018/3/25","v":0.6},
{"s":"LG-LD1-2","t":"2018/4/1","v":0.6},{"s":"LG-LD1-2","t":"2018/4/7","v":0.7},{"s":"LG-LD1-2","t":"2018/4/13","v":0.8},{"s":"LG-LD1-2","t":"2018/4/19","v":0.7},{"s":"LG-LD1-2","t":"2018/4/25","v":0.6},
{"s":"LG-LD1-2","t":"2018/5/1","v":0.7},{"s":"LG-LD1-2","t":"2018/5/7","v":0.8},{"s":"LG-LD1-2","t":"2018/5/13","v":0.9},{"s":"LG-LD1-2","t":"2018/5/19","v":1.0},{"s":"LG-LD1-2","t":"2018/5/25","v":1.2},
{"s":"LG-LD1-2","t":"2018/6/1","v":1.5},{"s":"LG-LD1-2","t":"2018/6/7","v":2.0},{"s":"LG-LD1-2","t":"2018/6/13","v":2.2},{"s":"LG-LD1-2","t":"2018/6/19","v":2.4},{"s":"LG-LD1-2","t":"2018/6/25","v":2.6},
{"s":"LG-LD1-2","t":"2018/7/1","v":2.6},{"s":"LG-LD1-2","t":"2018/7/7","v":2.8},{"s":"LG-LD1-2","t":"2018/7/13","v":3.0},{"s":"LG-LD1-2","t":"2018/7/19","v":3.5},{"s":"LG-LD1-2","t":"2018/7/25","v":4.0},
{"s":"LG-LD1-2","t":"2018/8/1","v":4.5},{"s":"LG-LD1-2","t":"2018/8/7","v":5.2},{"s":"LG-LD1-2","t":"2018/8/13","v":5.9},{"s":"LG-LD1-2","t":"2018/8/19","v":5.5},{"s":"LG-LD1-2","t":"2018/8/25","v":4.8},
{"s":"LG-LD1-2","t":"2018/9/1","v":4.0},{"s":"LG-LD1-2","t":"2018/9/7","v":3.5},{"s":"LG-LD1-2","t":"2018/9/13","v":2.5},{"s":"LG-LD1-2","t":"2018/9/19","v":2.0},{"s":"LG-LD1-2","t":"2018/9/25","v":1.6},
{"s":"LG-LD1-2","t":"2018/10/1","v":1.2},{"s":"LG-LD1-2","t":"2018/10/7","v":1.0},{"s":"LG-LD1-2","t":"2018/10/13","v":1.2},{"s":"LG-LD1-2","t":"2018/10/19","v":1.4},{"s":"LG-LD1-2","t":"2018/10/25","v":1.2},
{"s":"LG-LD1-2","t":"2018/11/1","v":1.2},{"s":"LG-LD1-2","t":"2018/11/7","v":1.5},{"s":"LG-LD1-2","t":"2018/11/13","v":2.5},{"s":"LG-LD1-2","t":"2018/11/19","v":3.5},{"s":"LG-LD1-2","t":"2018/11/25","v":4.0},
{"s":"LG-LD1-2","t":"2018/12/1","v":4.5},{"s":"LG-LD1-2","t":"2018/12/7","v":3.5},{"s":"LG-LD1-2","t":"2018/12/13","v":3.0},{"s":"LG-LD1-2","t":"2018/12/19","v":2.0},{"s":"LG-LD1-2","t":"2018/12/25","v":1.5},
{"s":"LG-LD1-3","t":"2016/12/28","v":1.0},
{"s":"LG-LD1-3","t":"2017/1/1","v":1.0},{"s":"LG-LD1-3","t":"2017/1/11","v":0.8},{"s":"LG-LD1-3","t":"2017/1/21","v":1.2},
{"s":"LG-LD1-3","t":"2017/2/1","v":0.9},{"s":"LG-LD1-3","t":"2017/2/11","v":0.7},{"s":"LG-LD1-3","t":"2017/2/21","v":1.0},
{"s":"LG-LD1-3","t":"2017/3/1","v":0.8},{"s":"LG-LD1-3","t":"2017/3/11","v":1.1},{"s":"LG-LD1-3","t":"2017/3/21","v":0.9},
{"s":"LG-LD1-3","t":"2017/4/1","v":1.0},{"s":"LG-LD1-3","t":"2017/4/11","v":0.8},{"s":"LG-LD1-3","t":"2017/4/21","v":1.2},
{"s":"LG-LD1-3","t":"2017/5/1","v":0.9},{"s":"LG-LD1-3","t":"2017/5/11","v":1.0},{"s":"LG-LD1-3","t":"2017/5/21","v":1.1},
{"s":"LG-LD1-3","t":"2017/6/1","v":1.2},{"s":"LG-LD1-3","t":"2017/6/11","v":1.5},{"s":"LG-LD1-3","t":"2017/6/21","v":1.8},
{"s":"LG-LD1-3","t":"2017/7/1","v":2.0},{"s":"LG-LD1-3","t":"2017/7/11","v":2.5},{"s":"LG-LD1-3","t":"2017/7/21","v":2.2},
{"s":"LG-LD1-3","t":"2017/8/1","v":2.0},{"s":"LG-LD1-3","t":"2017/8/11","v":2.8},{"s":"LG-LD1-3","t":"2017/8/21","v":2.2},
{"s":"LG-LD1-3","t":"2017/9/1","v":2.5},{"s":"LG-LD1-3","t":"2017/9/11","v":2.8},{"s":"LG-LD1-3","t":"2017/9/21","v":2.0},
{"s":"LG-LD1-3","t":"2017/10/1","v":1.5},{"s":"LG-LD1-3","t":"2017/10/11","v":1.2},{"s":"LG-LD1-3","t":"2017/10/21","v":1.0},
{"s":"LG-LD1-3","t":"2017/11/1","v":0.8},{"s":"LG-LD1-3","t":"2017/11/11","v":0.6},{"s":"LG-LD1-3","t":"2017/11/21","v":0.5},
{"s":"LG-LD1-3","t":"2017/12/1","v":0.4},{"s":"LG-LD1-3","t":"2017/12/11","v":0.3},{"s":"LG-LD1-3","t":"2017/12/21","v":0.2},
{"s":"LG-LD1-3","t":"2018/1/1","v":0.1},{"s":"LG-LD1-3","t":"2018/1/11","v":0.0},{"s":"LG-LD1-3","t":"2018/1/21","v":-0.1},
{"s":"LG-LD1-3","t":"2018/2/1","v":-0.5},{"s":"LG-LD1-3","t":"2018/2/11","v":-0.3},{"s":"LG-LD1-3","t":"2018/2/21","v":0.0},
{"s":"LG-LD1-3","t":"2018/3/1","v":0.1},{"s":"LG-LD1-3","t":"2018/3/11","v":0.2},{"s":"LG-LD1-3","t":"2018/3/21","v":0.3},
{"s":"LG-LD1-3","t":"2018/4/1","v":0.3},{"s":"LG-LD1-3","t":"2018/4/11","v":0.2},{"s":"LG-LD1-3","t":"2018/4/21","v":0.4},
{"s":"LG-LD1-3","t":"2018/5/1","v":0.4},{"s":"LG-LD1-3","t":"2018/5/11","v":0.5},{"s":"LG-LD1-3","t":"2018/5/21","v":0.6},
{"s":"LG-LD1-3","t":"2018/6/1","v":0.6},{"s":"LG-LD1-3","t":"2018/6/11","v":0.7},{"s":"LG-LD1-3","t":"2018/6/21","v":0.8},
{"s":"LG-LD1-3","t":"2018/7/1","v":0.8},{"s":"LG-LD1-3","t":"2018/7/11","v":1.0},{"s":"LG-LD1-3","t":"2018/7/21","v":1.2},
{"s":"LG-LD1-3","t":"2018/8/1","v":1.2},{"s":"LG-LD1-3","t":"2018/8/11","v":1.4},{"s":"LG-LD1-3","t":"2018/8/21","v":1.3},
{"s":"LG-LD1-3","t":"2018/9/1","v":1.2},{"s":"LG-LD1-3","t":"2018/9/11","v":1.0},{"s":"LG-LD1-3","t":"2018/9/21","v":0.8},
{"s":"LG-LD1-3","t":"2018/10/1","v":0.8},{"s":"LG-LD1-3","t":"2018/10/11","v":1.0},{"s":"LG-LD1-3","t":"2018/10/21","v":0.7},
{"s":"LG-LD1-3","t":"2018/11/1","v":0.9},{"s":"LG-LD1-3","t":"2018/11/11","v":1.0},{"s":"LG-LD1-3","t":"2018/11/21","v":0.8},
{"s":"LG-LD1-3","t":"2018/12/1","v":0.9},{"s":"LG-LD1-3","t":"2018/12/11","v":1.0},{"s":"LG-LD1-3","t":"2018/12/21","v":0.8},
{"s":"LG-LD3-2","t":"2016/12/28","v":0.0},
{"s":"LG-LD3-2","t":"2017/1/1","v":0.1},{"s":"LG-LD3-2","t":"2017/1/16","v":-0.1},{"s":"LG-LD3-2","t":"2017/2/1","v":0.0},{"s":"LG-LD3-2","t":"2017/2/16","v":0.2},{"s":"LG-LD3-2","t":"2017/3/1","v":-0.1},{"s":"LG-LD3-2","t":"2017/3/16","v":0.0},{"s":"LG-LD3-2","t":"2017/4/1","v":0.1},{"s":"LG-LD3-2","t":"2017/4/16","v":-0.2},{"s":"LG-LD3-2","t":"2017/5/1","v":0.0},{"s":"LG-LD3-2","t":"2017/5/16","v":0.1},{"s":"LG-LD3-2","t":"2017/6/1","v":0.0},{"s":"LG-LD3-2","t":"2017/6/16","v":0.2},{"s":"LG-LD3-2","t":"2017/7/1","v":0.1},{"s":"LG-LD3-2","t":"2017/7/16","v":0.0},{"s":"LG-LD3-2","t":"2017/8/1","v":0.2},{"s":"LG-LD3-2","t":"2017/8/16","v":0.1},{"s":"LG-LD3-2","t":"2017/9/1","v":0.0},{"s":"LG-LD3-2","t":"2017/9/16","v":0.1},{"s":"LG-LD3-2","t":"2017/10/1","v":-0.1},{"s":"LG-LD3-2","t":"2017/10/16","v":0.0},{"s":"LG-LD3-2","t":"2017/11/1","v":0.1},{"s":"LG-LD3-2","t":"2017/11/16","v":-0.1},{"s":"LG-LD3-2","t":"2017/12/1","v":0.0},{"s":"LG-LD3-2","t":"2017/12/16","v":0.1},{"s":"LG-LD3-2","t":"2018/1/1","v":-0.1},{"s":"LG-LD3-2","t":"2018/1/16","v":0.0},{"s":"LG-LD3-2","t":"2018/2/1","v":-0.2},{"s":"LG-LD3-2","t":"2018/2/16","v":0.0},{"s":"LG-LD3-2","t":"2018/3/1","v":0.1},{"s":"LG-LD3-2","t":"2018/3/16","v":0.0},{"s":"LG-LD3-2","t":"2018/4/1","v":-0.1},{"s":"LG-LD3-2","t":"2018/4/16","v":0.1},{"s":"LG-LD3-2","t":"2018/5/1","v":0.0},{"s":"LG-LD3-2","t":"2018/5/16","v":0.1},{"s":"LG-LD3-2","t":"2018/6/1","v":0.0},{"s":"LG-LD3-2","t":"2018/6/16","v":0.2},{"s":"LG-LD3-2","t":"2018/7/1","v":0.1},{"s":"LG-LD3-2","t":"2018/7/16","v":0.0},{"s":"LG-LD3-2","t":"2018/8/1","v":0.1},{"s":"LG-LD3-2","t":"2018/8/16","v":0.2},{"s":"LG-LD3-2","t":"2018/9/1","v":0.0},{"s":"LG-LD3-2","t":"2018/9/16","v":0.1},{"s":"LG-LD3-2","t":"2018/10/1","v":-0.1},{"s":"LG-LD3-2","t":"2018/10/16","v":0.0},{"s":"LG-LD3-2","t":"2018/11/1","v":0.1},{"s":"LG-LD3-2","t":"2018/11/16","v":0.0},{"s":"LG-LD3-2","t":"2018/12/1","v":0.1},{"s":"LG-LD3-2","t":"2018/12/16","v":-0.1},{"s":"LG-LD3-2","t":"2018/12/28","v":0.0}
]
},
"hconcat":[
{
"width":536,"height":422,
"layer":[
{"data":{"name":"bands"},"mark":{"type":"rect"},
"encoding":{
"x":{"field":"start","type":"temporal","scale":{"domain":[{"year":2016,"month":7,"date":1},{"year":2019,"month":1,"date":1}],"nice":false},
"axis":{"values":[{"year":2016,"month":7,"date":1},{"year":2016,"month":10,"date":1},{"year":2017,"month":1,"date":1},{"year":2017,"month":4,"date":1},{"year":2017,"month":7,"date":1},{"year":2017,"month":10,"date":1},{"year":2018,"month":1,"date":1},{"year":2018,"month":4,"date":1},{"year":2018,"month":7,"date":1},{"year":2018,"month":10,"date":1},{"year":2019,"month":1,"date":1}],
"labelExpr":"month(datum.value) % 6 == 0 ? timeFormat(datum.value, '%Y/%-m/%-d') : ''",
"tickSize":{"condition":{"test":"month(datum.value) % 6 == 0","value":8},"value":4},
"labelFont":"Liberation Serif","titleFont":"Liberation Serif",
"labelPadding":5,"title":"Time (yyyy/mm/dd)","titleFontSize":23,"titlePadding":10}},
"x2":{"field":"end"},
"fill":{"field":"kind","type":"nominal","scale":{"domain":["Flood season","Impoundment"],"range":["#a8c4e0","#ddcef0"]},"legend":null}
}},
{"data":{"name":"disp"},"mark":{"type":"line","strokeWidth":1.3},
"encoding":{
"x":{"field":"t","type":"temporal","scale":{"domain":[{"year":2016,"month":7,"date":1},{"year":2019,"month":1,"date":1}],"nice":false}},
"y":{"field":"v","type":"quantitative","scale":{"domain":[0,5000],"nice":false},
"axis":{"values":[0,500,1000,1500,2000,2500,3000,3500,4000,4500,5000],"format":"d","labelExpr":"datum.value % 1000 == 0 ? datum.label : ''","tickSize":{"condition":{"test":"datum.value % 1000 == 0","value":8},"value":4},"labelFont":"Liberation Serif","titleFont":"Liberation Serif","labelPadding":3,"title":"Displacement (mm)","titleFontSize":23,"titlePadding":7}},
"color":{"field":"s","type":"nominal",
"scale":{"domain":["LD1","LD2","LD3","LD1-1","LD1-2","LD1-3","LD1-4","LD2-1","LD2-2","LD2-3","LD2-4","LD3-1","LD3-2","LD3-3","LD4-1","LD4-2","LD4-3"],
"range":["#1a1a1a","#c0504d","#33cc33","#14146e","#40d8e8","#c040c8","#f0ec3a","#6b5a1e","#2a2a55","#5c2a6e","#4a2c2a","#1f5a1f","#3a8c8c","#3a3a70","#cc7a22","#6a4c9c","#c0207a"]},
"legend":{"orient":"none","legendX":6,"legendY":55,"columns":2,"title":null,"symbolType":"stroke","symbolSize":1849,"symbolStrokeWidth":1.5,"labelFontSize":18,"labelOffset":1,"columnPadding":4,"rowPadding":6,"clipHeight":18,"padding":0}}
}},
{"data":{"values":[{}]},"mark":{"type":"text","text":["Flood","season"],"align":"left","baseline":"middle","fontSize":23,"lineHeight":29,"color":"black"},
"encoding":{"x":{"datum":{"year":2017,"month":6,"date":28},"type":"temporal","scale":{"domain":[{"year":2016,"month":7,"date":1},{"year":2019,"month":1,"date":1}],"nice":false}},"y":{"datum":4467,"type":"quantitative"}}},
{"data":{"values":[{}]},"mark":{"type":"text","text":"Impoundment","align":"center","baseline":"middle","fontSize":23,"color":"black"},
"encoding":{"x":{"datum":{"year":2018,"month":5,"date":3},"type":"temporal","scale":{"domain":[{"year":2016,"month":7,"date":1},{"year":2019,"month":1,"date":1}],"nice":false}},"y":{"datum":4491,"type":"quantitative"}}},
{"data":{"values":[{}]},"mark":{"type":"text","text":"(a)","align":"left","baseline":"middle","fontSize":31,"dx":-88,"color":"black"},
"encoding":{"x":{"datum":{"year":2016,"month":7,"date":1},"type":"temporal","scale":{"domain":[{"year":2016,"month":7,"date":1},{"year":2019,"month":1,"date":1}],"nice":false}},"y":{"datum":4787,"type":"quantitative"}}}
]
},
{
"width":515,"height":425,
"resolve":{"scale":{"y":"independent"}},
"layer":[
{"data":{"name":"band"},"mark":{"type":"rect","color":"#f9cdb0"},
"encoding":{"y":{"field":"lo","type":"quantitative","scale":{"domain":[-10,20],"nice":false},
"axis":{"orient":"left","values":[-10,-5,0,5,10,15,20],"labelExpr":"datum.value % 10 == 0 ? datum.label : ''","tickSize":{"condition":{"test":"datum.value % 10 == 0","value":7},"value":4},"labelFont":"Liberation Serif","titleFont":"Liberation Serif","labelPadding":4,"title":"Rates of RWL (m/day)","titlePadding":7}},
"y2":{"field":"hi"}}},
{"data":{"name":"vel"},"mark":{"type":"point","filled":true,"opacity":1,"size":70,"clip":true},
"encoding":{
"x":{"field":"t","type":"temporal","scale":{"domain":[{"year":2016,"month":12,"date":1},{"year":2019,"month":2,"date":2}],"nice":false},
"axis":{"values":[{"year":2016,"month":12,"date":1},{"year":2017,"month":3,"date":1},{"year":2017,"month":6,"date":1},{"year":2017,"month":9,"date":1},{"year":2017,"month":12,"date":1},{"year":2018,"month":3,"date":1},{"year":2018,"month":6,"date":1},{"year":2018,"month":9,"date":1},{"year":2018,"month":12,"date":1}],
"labelExpr":"month(datum.value) % 6 == 5 ? timeFormat(datum.value, '%Y/%-m/%-d') : ''",
"tickSize":{"condition":{"test":"month(datum.value) % 6 == 5","value":-8},"value":-4},
"labelFont":"Liberation Serif","titleFont":"Liberation Serif",
"labelPadding":18,"title":"Time (yyyy/mm/dd)","titlePadding":9}},
"y":{"field":"v","type":"quantitative","scale":{"domain":[-20,40],"nice":false},
"axis":{"orient":"right","values":[-20,-10,0,10,20,30,40],"labelExpr":"datum.value % 20 == 0 ? datum.label : ''","tickSize":{"condition":{"test":"datum.value % 20 == 0","value":7},"value":4},"labelFont":"Liberation Serif","titleFont":"Liberation Serif","labelPadding":3,"title":"Displacement velocities (mm/day)","titlePadding":-3}},
"color":{"field":"s","type":"nominal","scale":{"domain":["LG-LD1","LG-LD1-1","LG-LD1-2","LG-LD1-3","LG-LD3-2"],"range":["#3d3d3d","#1f66d6","#35a35a","#c8960c","#19c1c9"]},
"legend":{"orient":"none","legendX":38.5,"legendY":54,"title":null,"symbolSize":50,"labelFontSize":19,"labelOffset":15.5,"rowPadding":4,"symbolStrokeWidth":0,"padding":0}},
"shape":{"field":"s","type":"nominal","scale":{"domain":["LG-LD1","LG-LD1-1","LG-LD1-2","LG-LD1-3","LG-LD3-2"],"range":["square","circle","triangle-up","triangle-down","square"]},
"legend":{"orient":"none","legendX":38.5,"legendY":54,"title":null,"symbolSize":50,"labelFontSize":19,"labelOffset":15.5,"rowPadding":4,"symbolStrokeWidth":0,"padding":0}}
}},
{"data":{"name":"rwl"},"mark":{"type":"line","strokeWidth":1.6},
"encoding":{
"x":{"field":"t","type":"temporal","scale":{"domain":[{"year":2016,"month":12,"date":1},{"year":2019,"month":2,"date":2}],"nice":false}},
"y":{"field":"v","type":"quantitative","scale":{"domain":[-10,20],"nice":false},"axis":null},
"stroke":{"field":"s","type":"nominal","scale":{"domain":["rates of RWL"],"range":["#a66ad6"]},
"legend":{"orient":"none","legendX":24,"legendY":18,"title":null,"symbolType":"M-1,-0.5L1,-0.5L1,0.5L-1,0.5Z","symbolSize":1936,"symbolFillColor":"#a66ad6","symbolStrokeWidth":0,"labelFontSize":19,"labelOffset":6,"padding":0,
"encode":{"symbols":{"update":{"fill":{"value":"#a66ad6"},"stroke":{"value":"transparent"}}}}}}
}},
{"data":{"values":[{}]},"mark":{"type":"rule","color":"#333333","strokeDash":[8,5],"strokeWidth":1.5},
"encoding":{"y":{"datum":0,"type":"quantitative","scale":{"domain":[-10,20],"nice":false},"axis":null}}},
{"data":{"name":"boxes"},"mark":{"type":"rect","fillOpacity":0,"stroke":"#b5463f","strokeDash":[6,4],"strokeWidth":1.3},
"encoding":{
"x":{"field":"a","type":"temporal","scale":{"domain":[{"year":2016,"month":12,"date":1},{"year":2019,"month":2,"date":2}],"nice":false}},
"x2":{"field":"b"},
"y":{"field":"lo","type":"quantitative","scale":{"domain":[-10,20],"nice":false},"axis":null},
"y2":{"field":"hi"}}},
{"data":{"values":[{}]},"mark":{"type":"text","text":"(b)","align":"left","baseline":"middle","fontSize":31,"dx":-87,"color":"black"},
"encoding":{"x":{"datum":{"year":2016,"month":12,"date":1},"type":"temporal","scale":{"domain":[{"year":2016,"month":12,"date":1},{"year":2019,"month":2,"date":2}],"nice":false}},"y":{"datum":18.8,"type":"quantitative","scale":{"domain":[-10,20],"nice":false},"axis":null}}}
]
}
]
}
